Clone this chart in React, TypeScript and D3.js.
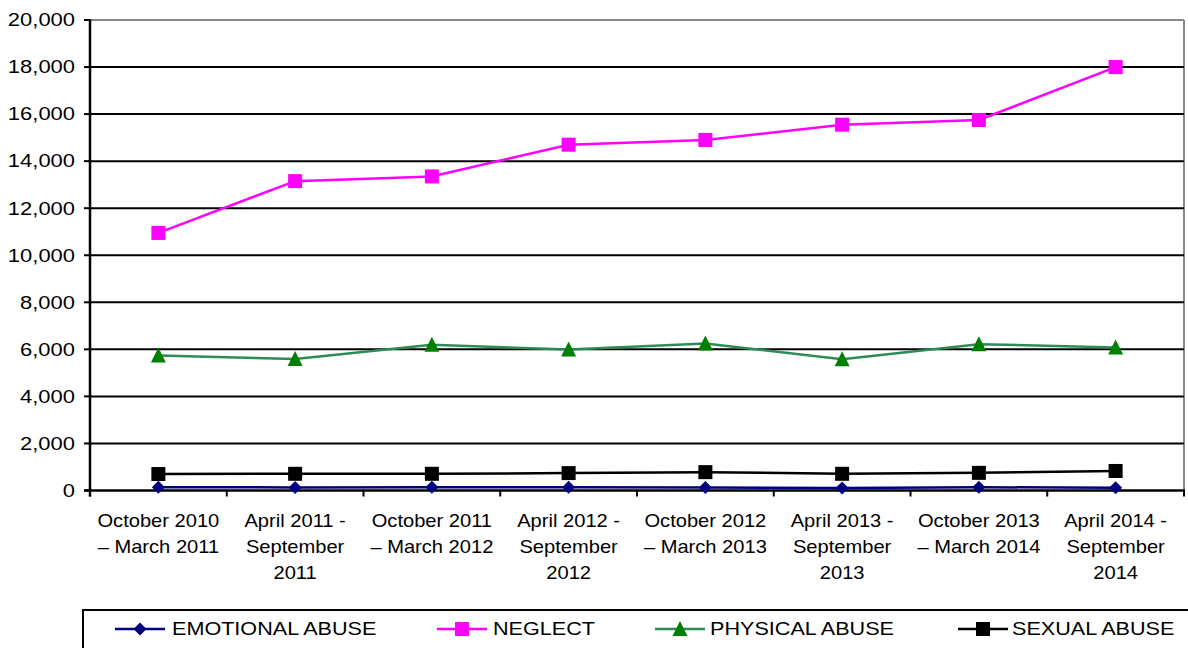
import React from "react";
import * as d3 from "d3";

const categories: string[][] = [
  ["October 2010", "– March 2011"],
  ["April 2011 -", "September", "2011"],
  ["October 2011", "– March 2012"],
  ["April 2012 -", "September", "2012"],
  ["October 2012", "– March 2013"],
  ["April 2013 -", "September", "2013"],
  ["October 2013", "– March 2014"],
  ["April 2014 -", "September", "2014"],
];

const emotional = [140, 130, 140, 135, 130, 110, 140, 115];
const neglect = [10950, 13150, 13350, 14700, 14900, 15550, 15750, 18000];
const physical = [5740, 5590, 6200, 5990, 6250, 5580, 6220, 6080];
const sexual = [700, 710, 710, 740, 780, 710, 750, 830];

const yTicks = [0, 2000, 4000, 6000, 8000, 10000, 12000, 14000, 16000, 18000, 20000];

type Series = { name: string; values: number[]; color: string; marker: string; markerColor: string };
const series: Series[] = [
  { name: "EMOTIONAL ABUSE", values: emotional, color: "#000080", marker: "diamond", markerColor: "#000080" },
  { name: "NEGLECT", values: neglect, color: "#FF00FF", marker: "square", markerColor: "#FF00FF" },
  { name: "PHYSICAL ABUSE", values: physical, color: "#2E8B57", marker: "triangle", markerColor: "#008000" },
  { name: "SEXUAL ABUSE", values: sexual, color: "#000000", marker: "square", markerColor: "#000000" },
];

const W = 1188, H = 648;
const L = 90, R = 1184, T = 20, B = 490.5;
const FONT = "'Liberation Sans', Arial, sans-serif";

function Marker({ type, x, y, color }: { type: string; x: number; y: number; color: string }) {
  if (type === "square") return <rect x={x - 7} y={y - 7} width={14} height={14} fill={color} />;
  if (type === "diamond") return <path d={`M${x},${y - 6.5}L${x + 6.5},${y}L${x},${y + 6.5}L${x - 6.5},${y}Z`} fill={color} />;
  return <path d={`M${x},${y - 8}L${x + 7.5},${y + 7}L${x - 7.5},${y + 7}Z`} fill={color} />;
}

function SText({ x, y, sx, size, anchor, dy, children }: { x: number; y: number; sx: number; size: number; anchor?: string; dy?: string; children: React.ReactNode }) {
  return (
    <text transform={`translate(${x},${y}) scale(${sx},1)`} x={0} y={0} dy={dy} textAnchor={anchor || "start"} fontSize={size} fill="#000">
      {children}
    </text>
  );
}

export default function App() {
  const x = d3.scaleBand<number>().domain(d3.range(categories.length)).range([L, R]);
  const y = d3.scaleLinear().domain([0, 20000]).range([B, T]);
  const cx = (i: number) => (x(i) as number) + x.bandwidth() / 2;
  const line = d3.line<number>().x((_, i) => cx(i)).y((d) => y(d));
  const fmt = d3.format(",");

  const legendItems = [
    { s: series[0], lx: 140, tx: 172 },
    { s: series[1], lx: 462, tx: 493 },
    { s: series[2], lx: 680, tx: 710 },
    { s: series[3], lx: 983, tx: 1012 },
  ];

  return (
    <svg width={W} height={H} style={{ position: "absolute", left: 0, top: 0, background: "#fff" }} fontFamily={FONT}>
      <line x1={L} x2={R} y1={T} y2={T} stroke="#888" strokeWidth={2} />
      <line x1={R} x2={R} y1={T} y2={B} stroke="#888" strokeWidth={2} />
      {yTicks.filter((t) => t > 0 && t < 20000).map((t) => (
        <line key={t} x1={L} x2={R} y1={y(t)} y2={y(t)} stroke="#000" strokeWidth={2} />
      ))}
      {yTicks.map((t) => (
        <g key={"yt" + t}>
          <line x1={L - 6} x2={L} y1={y(t)} y2={y(t)} stroke="#000" strokeWidth={2} />
          <SText x={75} y={y(t)} sx={1.22} size={18} anchor="end" dy="0.35em">{fmt(t)}</SText>
        </g>
      ))}
      <line x1={L} x2={L} y1={T - 1} y2={B + 6} stroke="#000" strokeWidth={2.5} />
      <line x1={L - 6} x2={R + 1} y1={B} y2={B} stroke="#000" strokeWidth={2.5} />
      {d3.range(categories.length + 1).map((i) => {
        const xx = L + i * x.bandwidth();
        return <line key={"xt" + i} x1={xx} x2={xx} y1={B} y2={B + 6} stroke="#000" strokeWidth={2} />;
      })}
      {categories.map((lines, i) => (
        <g key={"xl" + i}>
          {lines.map((l, j) => (
            <SText key={j} x={cx(i)} y={527 + j * 26} sx={1.15} size={17.5} anchor="middle">{l}</SText>
          ))}
        </g>
      ))}
      {series.map((s) => (
        <g key={s.name}>
          <path d={line(s.values) || ""} fill="none" stroke={s.color} strokeWidth={2.5} />
          {s.values.map((v, i) => (
            <Marker key={i} type={s.marker} x={cx(i)} y={y(v)} color={s.markerColor} />
          ))}
        </g>
      ))}
      <rect x={83} y={610} width={1120} height={60} fill="none" stroke="#000" strokeWidth={2} />
      {legendItems.map(({ s, lx, tx }) => (
        <g key={"lg" + s.name}>
          <line x1={lx - 25} x2={lx + 25} y1={629} y2={629} stroke={s.color} strokeWidth={2.5} />
          <Marker type={s.marker} x={lx} y={629} color={s.markerColor} />
          <SText x={tx} y={629} sx={1.2} size={18} dy="0.35em">{s.name}</SText>
        </g>
      ))}
    </svg>
  );
}
